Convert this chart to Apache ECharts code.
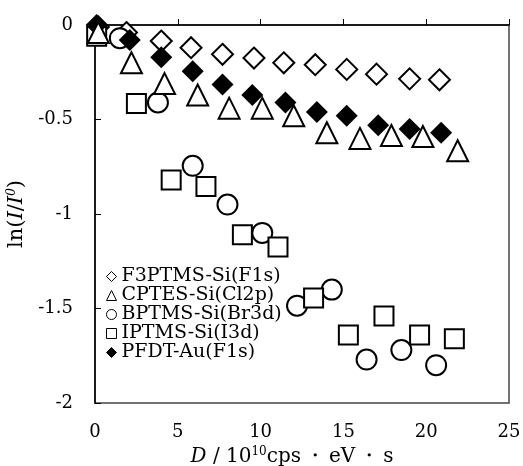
<!DOCTYPE html>
<html style="height: 100%">
<head>
<meta charset="utf-8">
<script src="https://cdn.jsdelivr.net/npm/echarts@6/dist/echarts.min.js"></script>
</head>
<body style="height: 100%; margin: 0; background: #fff">
<div id="container" style="width: 523px; height: 466px"></div>
<script type="text/javascript">
// values
var f3ptmsX = [0.2, 1.9, 4.0, 5.8, 7.7, 9.6, 11.4, 13.3, 15.2, 17.0, 19.0, 20.8];
var f3ptmsY = [-0.01, -0.04, -0.085, -0.12, -0.155, -0.175, -0.20, -0.21, -0.235, -0.26, -0.285, -0.29];
var cptesX = [0.2, 2.2, 4.2, 6.2, 8.1, 10.1, 12.0, 14.0, 16.0, 17.9, 19.8, 21.9];
var cptesY = [-0.04, -0.20, -0.31, -0.37, -0.44, -0.44, -0.48, -0.57, -0.60, -0.585, -0.59, -0.665];
var bptmsX = [1.5, 3.8, 5.9, 8.0, 10.1, 12.2, 14.3, 16.4, 18.5, 20.6];
var bptmsY = [-0.07, -0.41, -0.745, -0.95, -1.10, -1.485, -1.40, -1.77, -1.72, -1.80];
var iptmsX = [0.1, 2.5, 4.6, 6.7, 8.9, 11.05, 13.2, 15.3, 17.45, 19.6, 21.7];
var iptmsY = [-0.06, -0.415, -0.82, -0.855, -1.11, -1.175, -1.445, -1.64, -1.54, -1.64, -1.66];
var pfdtX = [0.1, 2.1, 4.0, 5.9, 7.7, 9.5, 11.5, 13.4, 15.2, 17.1, 19.0, 20.9];
var pfdtY = [0, -0.08, -0.17, -0.245, -0.315, -0.37, -0.41, -0.46, -0.48, -0.53, -0.55, -0.57];
var legendNames = ['F3PTMS-Si(F1s)', 'CPTES-Si(Cl2p)', 'BPTMS-Si(Br3d)', 'IPTMS-Si(I3d)', 'PFDT-Au(F1s)'];

var serif = '"DejaVu Serif", "Liberation Serif", serif';

function pairs(xs, ys) {
    var out = [];
    for (var i = 0; i < xs.length; i++) out.push([xs[i], ys[i]]);
    return out;
}
function openSeries(name, xs, ys, symbol, size) {
    return {
        name: name, type: 'scatter', symbol: symbol, symbolSize: size,
        data: pairs(xs, ys),
        itemStyle: {color: '#fff', borderColor: '#000', borderWidth: 2, opacity: 1}
    };
}

var dom = document.getElementById('container');
var myChart = echarts.init(dom);
var option = {
    animation: false,
    grid: {left: 95, right: 14, top: 25, bottom: 63, outerBoundsMode: 'none',
        show: true, borderColor: '#444', borderWidth: 1.5},
    legend: {
        orient: 'vertical', left: 101, top: 262, itemGap: 0,
        itemWidth: 10, itemHeight: 10,
        data: legendNames,
        itemStyle: {borderWidth: 1},
        textStyle: {fontFamily: serif, fontSize: 19, color: '#000'}
    },
    xAxis: {
        type: 'value', min: 0, max: 25, interval: 5,
        axisLine: {lineStyle: {color: '#000', width: 1.5}},
        axisTick: {inside: true, length: 6, lineStyle: {color: '#000'}},
        axisLabel: {color: '#000', fontFamily: serif, fontSize: 18, margin: 20},
        splitLine: {show: false},
        name: '{i|D}{n| / 10}{s|10}{n|cps\u2009・\u2009eV\u2009・\u2009s}',
        nameLocation: 'middle', nameGap: 39,
        nameTextStyle: {
            padding: [0, 20, 0, 0],
            rich: {
                i: {fontFamily: serif, fontStyle: 'italic', fontSize: 20, color: '#000'},
                n: {fontFamily: serif, fontSize: 20, color: '#000'},
                s: {fontFamily: serif, fontSize: 12, color: '#000', padding: [0, 0, 10, 0]}
            }
        }
    },
    yAxis: {
        type: 'value', min: -2, max: 0, interval: 0.5,
        axisLine: {lineStyle: {color: '#000', width: 1.5}},
        axisTick: {inside: true, length: 6, lineStyle: {color: '#000'}},
        axisLabel: {color: '#000', fontFamily: serif, fontSize: 18, margin: 22},
        splitLine: {show: false},
        name: '{n|ln(}{i|I}{n|/}{i|I}{s|0}{n|)}',
        nameLocation: 'middle', nameGap: 50, nameRotate: 90,
        nameTextStyle: {
            rich: {
                i: {fontFamily: serif, fontStyle: 'italic', fontSize: 21, color: '#000'},
                n: {fontFamily: serif, fontSize: 21, color: '#000'},
                s: {fontFamily: serif, fontStyle: 'italic', fontSize: 12, color: '#000', padding: [0, 0, 10, 0]}
            }
        }
    },
    series: [
        openSeries(legendNames[0], f3ptmsX, f3ptmsY, 'diamond', 21),
        openSeries(legendNames[2], bptmsX, bptmsY, 'circle', 20),
        openSeries(legendNames[3], iptmsX, iptmsY, 'rect', 19),
        {
            name: legendNames[4], type: 'scatter', symbol: 'diamond', symbolSize: 22,
            data: pairs(pfdtX, pfdtY),
            itemStyle: {color: '#000', borderColor: '#000', borderWidth: 0, opacity: 1}
        },
        openSeries(legendNames[1], cptesX, cptesY, 'triangle', 21)
    ]
};
myChart.setOption(option, true);
</script>
</body>
</html>
